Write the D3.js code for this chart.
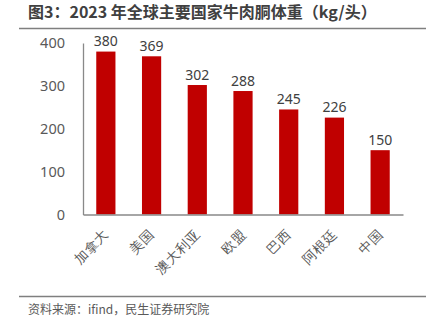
<!DOCTYPE html>
<html>
<head>
<meta charset="utf-8">
<script src="https://cdn.jsdelivr.net/npm/d3@7"></script>
<style>
  html, body { margin: 0; padding: 0; background: #fff; }
  svg { display: block; font-family: "Noto Sans CJK SC", "Noto Sans", sans-serif; }
</style>
</head>
<body>
<svg id="chart" width="433" height="327"></svg>
<script>
// Beef carcass weight by country, 2023 (kg/head)
const categories = ["加拿大", "美国", "澳大利亚", "欧盟", "巴西", "阿根廷", "中国"];
const values = [380, 369, 302, 288, 245, 226, 150];
const yTicks = [0, 100, 200, 300, 400];

const titleText = "图3：2023 年全球主要国家牛肉胴体重（kg/头）";
const sourceText = "资料来源：ifind，民生证券研究院";

const svg = d3.select("#chart");
const margin = { left: 83, right: 30, top: 43, bottom: 112.5 };
const W = 433, H = 327;

const x = d3.scaleBand()
  .domain(categories)
  .range([margin.left, W - margin.right])
  .paddingInner(0.58)
  .paddingOuter(0.29);

const y = d3.scaleLinear()
  .domain([0, 400])
  .range([H - margin.bottom, margin.top]);

// Title and rule beneath it
svg.append("text")
  .attr("x", 28).attr("y", 17.5)
  .attr("font-size", 16).attr("font-weight", "bold")
  .attr("fill", "#404040")
  .text(titleText);
svg.append("line")
  .attr("x1", 19).attr("x2", 426).attr("y1", 28.5).attr("y2", 28.5)
  .attr("stroke", "#7f7f7f").attr("stroke-width", 1.5);

// Bars
svg.append("g").selectAll("rect")
  .data(values)
  .join("rect")
  .attr("x", (d, i) => x(categories[i]))
  .attr("width", x.bandwidth())
  .attr("y", d => y(d))
  .attr("height", d => y(0) - y(d))
  .attr("fill", "#C00000");

// Value labels
svg.append("g").selectAll("text")
  .data(values)
  .join("text")
  .attr("x", (d, i) => x(categories[i]) + x.bandwidth() / 2)
  .attr("y", d => y(d) - 5.5)
  .attr("text-anchor", "middle")
  .attr("font-size", 14)
  .attr("fill", "#404040")
  .attr("font-family", "\"Noto Sans\", sans-serif")
  .text(d => d);

// Y axis
const yAxis = svg.append("g")
  .attr("transform", `translate(${margin.left},0)`)
  .call(d3.axisLeft(y).tickValues(yTicks).tickSize(0).tickPadding(18));
yAxis.select(".domain").attr("stroke", "#898989").attr("stroke-width", 1.3);
yAxis.selectAll("text").attr("font-size", 14.5).attr("fill", "#595959")
  .attr("font-family", "\"Noto Sans\", sans-serif");

// X axis with rotated category names
const xAxis = svg.append("g")
  .attr("transform", `translate(0,${y(0)})`)
  .call(d3.axisBottom(x).tickSize(0).tickPadding(0));
xAxis.select(".domain").attr("stroke", "#898989").attr("stroke-width", 1.3);
xAxis.selectAll("text")
  .attr("font-size", 13.5)
  .attr("fill", "#595959")
  .attr("text-anchor", "end")
  .attr("dy", null)
  .attr("y", 0)
  .attr("transform", "translate(1,18.5) rotate(-45)")
  .attr("dominant-baseline", "middle");

// Source rule and note
svg.append("line")
  .attr("x1", 19).attr("x2", 426).attr("y1", 296.5).attr("y2", 296.5)
  .attr("stroke", "#7f7f7f").attr("stroke-width", 1.5);
svg.append("text")
  .attr("x", 28).attr("y", 314)
  .attr("font-size", 12).attr("fill", "#595959")
  .text(sourceText);
</script>
</body>
</html>
